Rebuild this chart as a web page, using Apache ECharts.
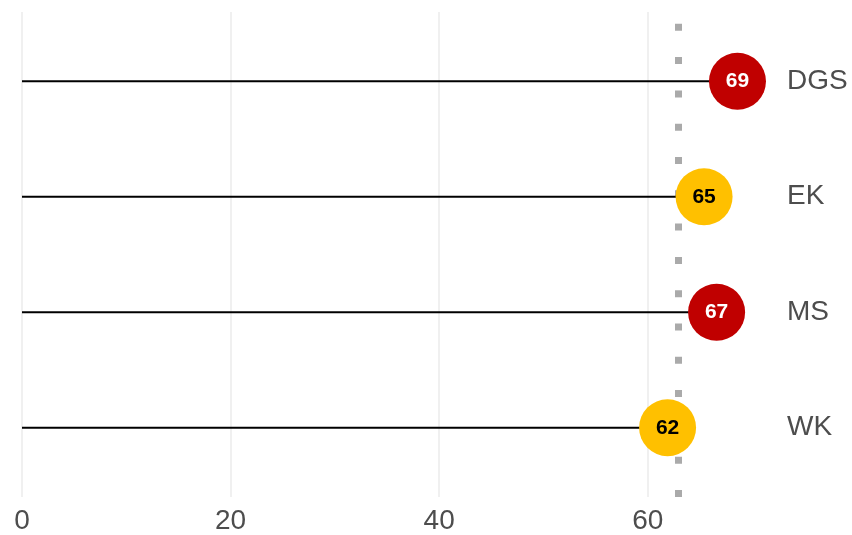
<!DOCTYPE html>
<html>
<head>
<meta charset="utf-8">
<script src="https://cdn.jsdelivr.net/npm/echarts@6/dist/echarts.min.js"></script>
<style>
  html, body { margin: 0; padding: 0; background: #fff; }
  #main { width: 852px; height: 535px; }
</style>
</head>
<body>
<div id="main"></div>
<script>
// groups, bottom to top
var categories = ['WK', 'MS', 'EK', 'DGS']
// score per group
var values = [61.9, 66.6, 65.4, 68.6]
// above / below the reference
var groupStatus = ['below', 'above', 'below', 'above']
// dotted reference line
var target = 62.9
var xTicks = [0, 20, 40, 60]

var statusColor = { above: '#c00000', below: '#ffc000' }
var statusText = { above: '#ffffff', below: '#000000' }

var chart = echarts.init(document.getElementById('main'))

var pos = categories.map(function (c, i) { return i + 1 })

var option = {
  animation: false,
  grid: { left: 22, right: 65, top: 12, bottom: 38 },
  xAxis: {
    type: 'value',
    min: 0,
    max: 73.35,
    interval: 20,
    axisLine: { show: false },
    axisTick: { show: false },
    splitLine: { showMaxLine: false, lineStyle: { color: '#ebebeb', width: 1.5 } },
    axisLabel: {
      fontFamily: 'Liberation Sans, Arial, sans-serif',
      fontSize: 28,
      color: '#4d4d4d',
      margin: 10,
      showMaxLabel: false,
      formatter: function (v) { return xTicks.indexOf(v) >= 0 ? String(v) : '' }
    }
  },
  yAxis: {
    type: 'value',
    position: 'right',
    min: 0.4,
    max: 4.6,
    interval: 0.2,
    axisLine: { show: false },
    axisTick: { show: false },
    splitLine: { show: false },
    axisLabel: {
      fontFamily: 'Liberation Sans, Arial, sans-serif',
      fontSize: 28,
      color: '#4d4d4d',
      margin: 0,
      hideOverlap: false,
      formatter: function (v) {
        var i = pos.indexOf(Math.round(v * 100) / 100)
        return i >= 0 ? categories[i] : ''
      }
    }
  },
  series: [
    {
      // stems
      type: 'custom',
      z: 2,
      data: values.map(function (v, i) { return [v, pos[i]] }),
      renderItem: function (params, api) {
        var a = api.coord([0, api.value(1)])
        var b = api.coord([api.value(0), api.value(1)])
        return {
          type: 'line',
          shape: { x1: a[0], y1: a[1], x2: b[0], y2: b[1] },
          style: { stroke: '#000', lineWidth: 2 }
        }
      },
      markLine: {
        silent: true,
        symbol: ['none', 'none'],
        label: { show: false },
        z: 1,
        lineStyle: { color: '#aaaaaa', width: 7, type: [7, 26.3], cap: 'butt' },
        data: [[{ coord: [target, 0.4] }, { coord: [target, 4.6] }]]
      }
    },
    {
      type: 'scatter',
      z: 3,
      symbolSize: 57,
      data: values.map(function (v, i) {
        return {
          value: [v, pos[i]],
          itemStyle: { color: statusColor[groupStatus[i]], opacity: 1 },
          label: { color: statusText[groupStatus[i]] }
        }
      }),
      label: {
        show: true,
        position: 'inside',
        fontFamily: 'Liberation Sans, Arial, sans-serif',
        fontWeight: 'bold',
        fontSize: 21,
        formatter: function (p) { return Math.round(p.value[0]) }
      }
    }
  ]
}

chart.setOption(option)
</script>
</body>
</html>
